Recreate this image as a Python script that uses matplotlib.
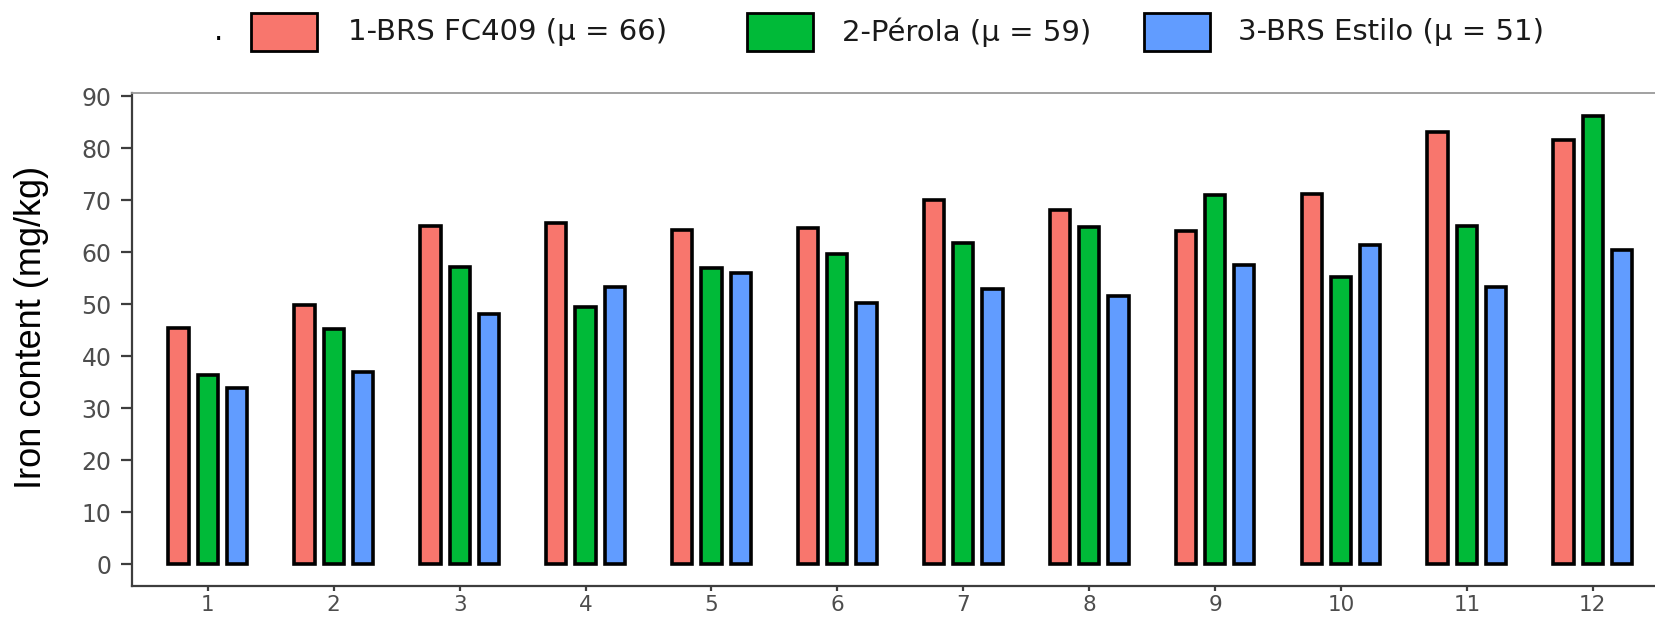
"""
Iron content (mg/kg) of three common bean cultivars across 12 environments.
Grouped bar chart, ggplot-like look, saved to out.png.
"""

import matplotlib
matplotlib.use("Agg")
import matplotlib.pyplot as plt
from matplotlib.patches import Rectangle
import numpy as np

# ---------------------------------------------------------------------------
# Data
# ---------------------------------------------------------------------------

environments = ["1", "2", "3", "4", "5", "6", "7", "8", "9", "10", "11", "12"]

brs_fc409  = [45.4, 49.9, 65.0, 65.7, 64.2, 64.6, 70.1, 68.2, 64.1, 71.2, 83.1, 81.7]
perola     = [36.4, 45.3, 57.1, 49.5, 56.9, 59.6, 61.8, 64.8, 71.1, 55.2, 65.0, 86.3]
brs_estilo = [33.9, 36.9, 48.1, 53.4, 56.1, 50.2, 53.0, 51.5, 57.5, 61.4, 53.4, 60.4]

series_labels = ["1-BRS FC409 (μ = 66)", "2-Pérola (μ = 59)", "3-BRS Estilo (μ = 51)"]
legend_title = "."

# ---------------------------------------------------------------------------
# Style
# ---------------------------------------------------------------------------

W, H = 1656, 619
COLORS = ["#F8766D", "#00BA38", "#619CFF"]
DODGE = 0.2325          # centre-to-centre distance of bars in a group
BAR_W = 0.161
EDGE_LW = 2.6
AXIS_GREY = "#4d4d4d"
TICK_FONT = "DejaVu Sans"

# ---------------------------------------------------------------------------
# Figure
# ---------------------------------------------------------------------------

fig = plt.figure(figsize=(W / 100, H / 100), dpi=100)
ax = fig.add_axes([132.3 / W, (H - 586.4) / H, 1536 / W, 493.1 / H])

x = np.arange(1, len(environments) + 1)
series = [brs_fc409, perola, brs_estilo]
for k, (vals, col) in enumerate(zip(series, COLORS)):
    ax.bar(x + (k - 1) * DODGE, vals, width=BAR_W, color=col,
           edgecolor="black", linewidth=EDGE_LW, zorder=2)

ax.set_xlim(0.4, 12.6)
ax.set_ylim(-4.3, 90.6)
ax.set_xticks(x, environments)
ax.set_yticks(range(0, 91, 10))

for lab in ax.get_xticklabels() + ax.get_yticklabels():
    lab.set_fontfamily(TICK_FONT)

ax.spines["right"].set_visible(False)
ax.spines["top"].set_color("#9a9a9a")
ax.spines["top"].set_linewidth(1.3)
for side in ("left", "bottom"):
    ax.spines[side].set_color("#3d3d3d")
    ax.spines[side].set_linewidth(1.6)

ax.tick_params(axis="y", length=8, width=1.6, color="#3d3d3d",
               labelcolor=AXIS_GREY, labelsize=17, pad=7)
ax.tick_params(axis="x", length=3.8, width=1.6, color="#3d3d3d",
               labelcolor=AXIS_GREY, labelsize=15.5, pad=2.5)

ax.set_ylabel("Iron content (mg/kg)", fontsize=26, family="Liberation Sans")
ax.yaxis.set_label_coords(-0.0545, 0.525)

# --- legend across the top (title "." then key + label for each cultivar) ---
key_left = [251, 747, 1144]
text_left = [348, 842, 1238]
key_top, key_bot = 13, 51
y_mid = (H - (key_top + key_bot) / 2) / H

fig.text(219 / W, (H - 40) / H, legend_title, ha="center", va="baseline",
         fontsize=21, family=TICK_FONT)
for kx, tx, col, lab in zip(key_left, text_left, COLORS, series_labels):
    fig.add_artist(Rectangle((kx / W, (H - key_bot) / H), 66 / W,
                             (key_bot - key_top) / H, transform=fig.transFigure,
                             facecolor=col, edgecolor="black", linewidth=2.0))
    fig.text(tx / W, y_mid, lab, ha="left", va="center",
             fontsize=21, family=TICK_FONT, color="#1a1a1a")

fig.savefig("out.png", dpi=100)
